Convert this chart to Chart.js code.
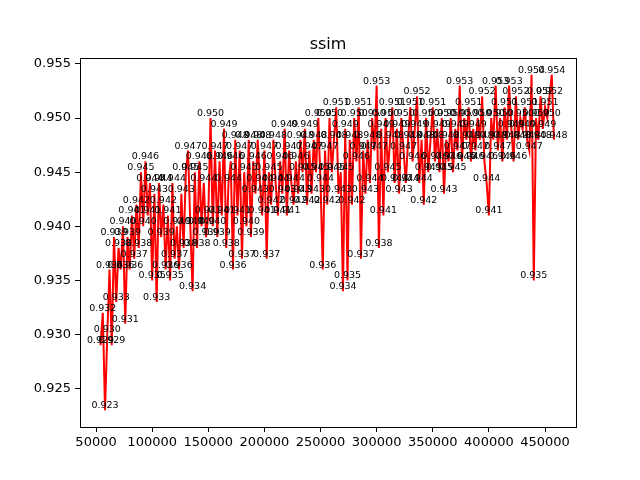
<!DOCTYPE html>
<html>
<head>
<meta charset="utf-8">
<title>ssim</title>
<script src="https://cdn.jsdelivr.net/npm/chart.js@4.4.1/dist/chart.umd.min.js"></script>
<style>
  html, body { margin: 0; padding: 0; background: #ffffff; }
  #chart { display: block; }
</style>
</head>
<body>
<canvas id="chart" width="640" height="480"></canvas>
<script>
// training steps (x)
const steps = [
  54000, 56000, 58000, 60000, 62000, 64000, 66000, 68000, 70000, 72000,
  74000, 76000, 78000, 80000, 82000, 84000, 86000, 88000, 90000, 92000,
  94000, 96000, 98000, 100000, 102000, 104000, 106000, 108000, 110000, 112000,
  114000, 116000, 118000, 120000, 122000, 124000, 126000, 128000, 130000, 132000,
  134000, 136000, 138000, 140000, 142000, 144000, 146000, 148000, 150000, 152000,
  154000, 156000, 158000, 160000, 162000, 164000, 166000, 168000, 170000, 172000,
  174000, 176000, 178000, 180000, 182000, 184000, 186000, 188000, 190000, 192000,
  194000, 196000, 198000, 200000, 202000, 204000, 206000, 208000, 210000, 212000,
  214000, 216000, 218000, 220000, 222000, 224000, 226000, 228000, 230000, 232000,
  234000, 236000, 238000, 240000, 242000, 244000, 246000, 248000, 250000, 252000,
  254000, 256000, 258000, 260000, 262000, 264000, 266000, 268000, 270000, 272000,
  274000, 276000, 278000, 280000, 282000, 284000, 286000, 288000, 290000, 292000,
  294000, 296000, 298000, 300000, 302000, 304000, 306000, 308000, 310000, 312000,
  314000, 316000, 318000, 320000, 322000, 324000, 326000, 328000, 330000, 332000,
  334000, 336000, 338000, 340000, 342000, 344000, 346000, 348000, 350000, 352000,
  354000, 356000, 358000, 360000, 362000, 364000, 366000, 368000, 370000, 372000,
  374000, 376000, 378000, 380000, 382000, 384000, 386000, 388000, 390000, 392000,
  394000, 396000, 398000, 400000, 402000, 404000, 406000, 408000, 410000, 412000,
  414000, 416000, 418000, 420000, 422000, 424000, 426000, 428000, 430000, 432000,
  434000, 436000, 438000, 440000, 442000, 444000, 446000, 448000, 450000, 452000,
  454000, 456000, 458000
];

// ssim value at each step
const ssim = [
  0.929, 0.932, 0.923, 0.930, 0.936, 0.929, 0.939, 0.933, 0.938, 0.936,
  0.940, 0.931, 0.939, 0.936, 0.941, 0.937, 0.942, 0.938, 0.945, 0.940,
  0.946, 0.941, 0.944, 0.935, 0.943, 0.933, 0.944, 0.939, 0.942, 0.936,
  0.941, 0.935, 0.944, 0.937, 0.940, 0.936, 0.943, 0.938, 0.945, 0.947,
  0.940, 0.934, 0.945, 0.938, 0.946, 0.940, 0.944, 0.939, 0.941, 0.950,
  0.940, 0.947, 0.939, 0.946, 0.941, 0.949, 0.938, 0.944, 0.946, 0.936,
  0.948, 0.941, 0.947, 0.937, 0.945, 0.940, 0.948, 0.939, 0.946, 0.943,
  0.948, 0.944, 0.941, 0.947, 0.937, 0.945, 0.942, 0.948, 0.944, 0.941,
  0.946, 0.943, 0.949, 0.941, 0.947, 0.944, 0.942, 0.946, 0.943, 0.948,
  0.945, 0.949, 0.942, 0.947, 0.943, 0.948, 0.945, 0.950, 0.944, 0.936,
  0.947, 0.942, 0.950, 0.945, 0.948, 0.951, 0.943, 0.945, 0.934, 0.949,
  0.935, 0.948, 0.942, 0.950, 0.946, 0.951, 0.937, 0.947, 0.943, 0.948,
  0.944, 0.950, 0.947, 0.953, 0.938, 0.949, 0.941, 0.950, 0.945, 0.948,
  0.951, 0.944, 0.949, 0.943, 0.950, 0.947, 0.944, 0.948, 0.951, 0.946,
  0.949, 0.952, 0.944, 0.948, 0.942, 0.950, 0.945, 0.948, 0.951, 0.946,
  0.949, 0.945, 0.950, 0.943, 0.948, 0.946, 0.950, 0.945, 0.949, 0.947,
  0.953, 0.946, 0.950, 0.948, 0.951, 0.946, 0.949, 0.947, 0.950, 0.948,
  0.952, 0.946, 0.944, 0.941, 0.950, 0.948, 0.953, 0.947, 0.950, 0.946,
  0.951, 0.948, 0.953, 0.949, 0.946, 0.952, 0.948, 0.950, 0.949, 0.951,
  0.948, 0.947, 0.954, 0.935, 0.950, 0.948, 0.952, 0.949, 0.951, 0.950,
  0.952, 0.954, 0.948
];

// tick labels
const xTicks = [50000, 100000, 150000, 200000, 250000, 300000, 350000, 400000, 450000];
const yTicks = [0.925, 0.930, 0.935, 0.940, 0.945, 0.950, 0.955];

const FONT = 'DejaVu Sans';

// draws the value above every point, the frame and the title
const valueLabels = {
    id: 'valueLabels',
    afterDatasetsDraw(chart) {
        const ctx = chart.ctx;
        const meta = chart.getDatasetMeta(0);
        ctx.save();
        ctx.font = '9.5px "' + FONT + '"';
        ctx.fillStyle = '#000000';
        ctx.textAlign = 'center';
        ctx.textBaseline = 'alphabetic';
        meta.data.forEach((pt, i) => {
            ctx.fillText(ssim[i].toFixed(3), pt.x, pt.y - 2);
        });
        ctx.restore();
    },
    afterDraw(chart) {
        const ctx = chart.ctx;
        const a = chart.chartArea;
        ctx.save();
        ctx.strokeStyle = '#000000';
        ctx.lineWidth = 1;
        ctx.strokeRect(Math.round(a.left) + 0.5, Math.round(a.top) + 0.5,
            Math.round(a.right - a.left), Math.round(a.bottom - a.top));
        ctx.font = '16px "' + FONT + '"';
        ctx.fillStyle = '#000000';
        ctx.textAlign = 'center';
        ctx.textBaseline = 'alphabetic';
        ctx.fillText('ssim', (a.left + a.right) / 2, a.top - 9);
        ctx.restore();
    }
};

const ctx = document.getElementById('chart').getContext('2d');
new Chart(ctx, {
    type: 'line',
    data: {
        datasets: [{
            label: 'ssim',
            data: steps.map((s, i) => ({ x: s, y: ssim[i] })),
            borderColor: '#ff0000',
            borderWidth: 2,
            pointRadius: 0,
            tension: 0,
            fill: false
        }]
    },
    options: {
        responsive: false,
        animation: false,
        devicePixelRatio: 1,
        layout: { padding: { top: 58, right: 64, left: 0, bottom: 0 } },
        plugins: {
            legend: { display: false },
            title: { display: false },
            tooltip: { enabled: false }
        },
        scales: {
            x: {
                type: 'linear',
                min: 35700,
                max: 477600,
                afterBuildTicks: (scale) => { scale.ticks = xTicks.map(v => ({ value: v })); },
                afterFit: (scale) => { scale.height = 53; },
                ticks: {
                    color: '#000000',
                    font: { family: FONT, size: 13 },
                    padding: 3,
                    maxRotation: 0,
                    autoSkip: false,
                    callback: (v) => String(v)
                },
                grid: { display: true, drawOnChartArea: false, drawTicks: true, tickLength: 5, color: '#000000' },
                border: { display: true, color: '#000000' }
            },
            y: {
                type: 'linear',
                min: 0.92145,
                max: 0.95555,
                afterBuildTicks: (scale) => { scale.ticks = yTicks.map(v => ({ value: v })); },
                afterFit: (scale) => { scale.width = 80; },
                ticks: {
                    color: '#000000',
                    font: { family: FONT, size: 13 },
                    padding: 4,
                    autoSkip: false,
                    callback: (v) => v.toFixed(3)
                },
                grid: { display: true, drawOnChartArea: false, drawTicks: true, tickLength: 5, color: '#000000' },
                border: { display: true, color: '#000000' }
            }
        }
    },
    plugins: [valueLabels]
});
</script>
</body>
</html>
